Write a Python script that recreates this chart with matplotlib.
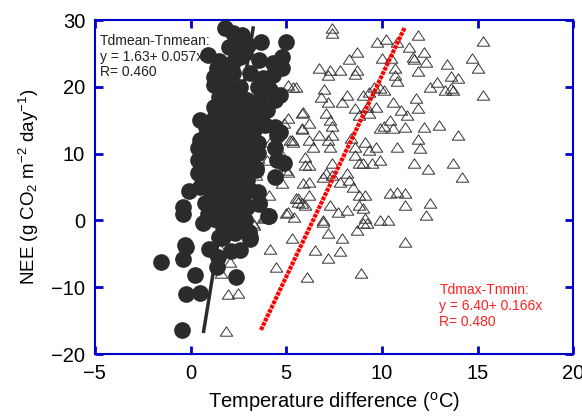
import numpy as np
import matplotlib
matplotlib.use("Agg")
import matplotlib.pyplot as plt
from matplotlib.path import Path

plt.rcParams['font.family'] = ['Liberation Sans', 'DejaVu Sans']
plt.rcParams['mathtext.fontset'] = 'custom'
plt.rcParams['mathtext.rm'] = 'Liberation Sans'
plt.rcParams['mathtext.it'] = 'Liberation Sans'
plt.rcParams['mathtext.default'] = 'regular'

# Tdmean-Tnmean (temperature difference, NEE)
tdmean_pts = [
    (-1.55, -6.2), (-0.45, -16.4), (-0.24, -11.0), (0.49, -10.9), (0.23, -8.2),
    (-0.4, -5.8), (-0.24, -4.0), (0.96, -4.3), (1.43, -5.5), (1.4, -7.0),
    (2.4, -8.5), (2.1, -4.6), (2.6, -4.4), (1.6, -2.6), (2.3, -1.9),
    (3.1, -2.8), (3.05, -1.7), (4.1, 0.7), (3.6, 2.5), (2.95, 2.0),
    (0.65, -0.4), (-0.4, 1.0), (-0.4, 2.0), (0.9, 0.9), (1.7, -1.0),
    (1.96, 0.0), (2.6, 0.0), (2.1, 1.1), (-0.3, -3.7), (1.5, -2.5),
    (1.7, -2.5), (3.1, -2.5), (1.6, 1.6), (0.75, 2.6), (-0.08, 4.4),
    (1.3, 5.6), (0.4, 7.1), (0.4, 9.0), (0.4, 10.8), (0.6, 12.0),
    (2.85, 0.1), (4.05, 0.7), (3.6, 2.6), (3.5, 4.3), (2.74, 3.5),
    (3.1, 4.5), (4.4, 6.5), (3.4, 7.8), (4.9, 8.6), (4.4, 10.8),
    (4.5, 12.8), (1.0, 2.0), (1.3, 3.0), (1.8, 2.5), (2.3, 3.0),
    (1.1, 4.0), (1.6, 4.2), (2.0, 4.8), (2.5, 5.2), (1.0, 6.0),
    (1.7, 6.5), (2.2, 6.2), (2.9, 7.0), (0.8, 8.0), (1.3, 8.5),
    (1.9, 7.8), (2.4, 8.4), (3.0, 8.8), (1.0, 9.8), (1.6, 9.2),
    (2.0, 10.5), (2.6, 10.0), (3.1, 10.8), (0.9, 11.0), (1.5, 11.5),
    (2.5, 11.8), (3.2, 12.3), (1.0, 12.8), (1.8, 12.5), (2.2, 13.0),
    (2.8, 12.6), (1.3, 14.2), (2.4, 14.0), (3.0, 14.3), (0.8, 14.0),
    (1.7, 1.0), (2.4, 1.8), (1.2, 0.2), (2.0, -0.8), (2.7, -1.0),
    (0.9, 24.8), (1.4, 22.8), (1.2, 21.5), (1.2, 20.3), (1.9, 21.8),
    (2.2, 23.7), (2.6, 24.5), (1.5, 18.5), (2.2, 18.0), (1.2, 17.0),
    (0.5, 15.0), (1.2, 15.3), (1.9, 16.0), (0.86, 13.5), (1.5, 13.8),
    (0.5, 12.0), (1.2, 11.6), (2.2, 12.0), (3.0, 13.1), (0.5, 10.5),
    (1.4, 10.1), (2.2, 9.5), (0.5, 9.0), (1.0, 7.1), (1.5, 8.0),
    (2.6, 7.1), (1.2, 5.8), (0.5, 5.0), (1.9, 5.0), (2.95, 6.0),
    (3.4, 7.5), (3.5, 10.1), (3.5, 11.6), (1.8, 28.8), (2.2, 28.0),
    (2.7, 27.8), (3.7, 26.7), (5.0, 26.7), (2.85, 25.0), (2.5, 24.5),
    (3.6, 24.0), (4.3, 23.6), (4.8, 24.5), (4.8, 22.8), (1.7, 22.8),
    (2.2, 22.0), (3.1, 22.0), (3.8, 21.3), (4.3, 21.8), (1.9, 20.0),
    (2.6, 20.0), (3.5, 20.0), (4.15, 19.5), (4.7, 18.8), (4.4, 18.0),
    (3.6, 18.0), (2.95, 18.0), (2.05, 18.0), (1.7, 16.8), (2.6, 16.5),
    (3.3, 16.1), (4.0, 16.5), (2.06, 15.0), (2.95, 15.0), (3.6, 14.7),
    (4.4, 14.0), (1.9, 13.5), (2.6, 13.5), (3.3, 13.5), (4.7, 13.2),
    (3.9, 14.3), (4.5, 9.0), (2.5, 26.5), (3.0, 26.2), (2.0, 26.0),
    (4.0, 20.5), (1.5, 23.8),
]

# Tdmax-Tnmin (temperature difference, NEE)
tdmax_pts = [
    (7.4, 28.8), (7.4, 28.0), (9.75, 26.7), (10.2, 27.2), (10.8, 26.7),
    (11.9, 27.8), (15.3, 26.9), (11.4, 26.0), (8.7, 25.2), (12.2, 25.2),
    (8.3, 24.2), (10.0, 24.3), (10.5, 24.3), (11.6, 24.4), (11.7, 24.2),
    (12.3, 23.7), (14.7, 24.3), (13.4, 23.4), (6.7, 22.8), (7.3, 22.5),
    (7.2, 21.8), (8.7, 22.5), (8.6, 21.9), (10.7, 22.8), (10.7, 21.8),
    (11.9, 22.4), (15.0, 22.8), (13.6, 21.6), (14.0, 21.3), (10.8, 20.9),
    (12.9, 20.7), (12.5, 20.0), (13.3, 19.5), (13.6, 19.8), (13.7, 19.5),
    (15.3, 18.8), (7.0, 19.7), (6.8, 18.5), (7.2, 17.7), (7.9, 17.7),
    (8.2, 18.8), (9.0, 18.8), (9.3, 19.2), (9.6, 20.0), (9.9, 19.8),
    (10.1, 19.5), (10.6, 17.7), (11.8, 18.3), (11.9, 16.8), (11.3, 15.8),
    (11.0, 16.5), (8.6, 16.8), (8.8, 15.8), (9.2, 17.0), (9.3, 16.1),
    (9.7, 17.0), (5.9, 16.2), (5.1, 15.3), (6.2, 14.6), (7.1, 16.1),
    (7.3, 15.0), (7.4, 14.1), (6.7, 12.8), (5.8, 13.7), (7.4, 12.8),
    (9.9, 13.8), (10.1, 14.1), (10.4, 15.0), (10.6, 13.8), (11.2, 14.0),
    (12.2, 14.0), (13.0, 14.3), (14.0, 12.8), (5.3, 12.0), (6.2, 12.0),
    (6.4, 11.0), (7.2, 12.0), (7.3, 11.0), (8.4, 12.3), (8.6, 11.0),
    (9.1, 11.7), (9.3, 10.5), (9.7, 11.0), (10.8, 11.0), (11.9, 12.2),
    (12.0, 10.8), (4.8, 9.8), (5.0, 7.5), (6.0, 9.5), (6.0, 8.3),
    (6.2, 8.3), (7.4, 8.6), (8.6, 9.8), (8.8, 8.6), (9.0, 8.6),
    (9.5, 8.6), (9.9, 9.0), (11.7, 8.6), (12.4, 7.7), (13.7, 8.6),
    (14.2, 6.5), (5.9, 5.6), (6.2, 5.7), (6.9, 6.5), (7.1, 7.1),
    (7.4, 6.8), (7.8, 5.7), (8.2, 7.1), (8.3, 6.0), (8.5, 5.0),
    (8.8, 3.8), (9.1, 3.8), (10.4, 4.1), (10.8, 4.3), (11.2, 4.1),
    (6.2, 3.8), (5.6, 3.4), (5.6, 2.8), (5.8, 2.6), (6.0, 2.3),
    (5.1, 1.3), (5.4, 0.5), (7.3, 2.3), (7.7, 1.3), (8.2, 1.6),
    (8.8, 2.3), (9.0, 1.9), (6.9, 0.1), (6.9, -0.2), (9.1, 0.4),
    (9.0, -0.4), (9.2, -0.4), (9.9, 0.1), (10.3, 0.1), (11.2, 2.3),
    (12.5, 2.6), (12.3, 0.8), (8.7, -1.4), (7.2, -1.9), (7.9, -2.6),
    (5.3, -2.6), (11.2, -3.2), (6.5, -4.4), (7.8, -4.6), (7.2, -5.6),
    (6.1, -8.5), (8.9, -7.9), (1.85, -16.6), (1.96, -11.0), (2.5, -10.9),
    (2.06, -6.2), (1.5, -4.0), (4.15, -4.3), (4.47, -7.0), (3.26, -0.4),
    (3.9, 0.5), (5.0, 1.1), (1.6, -7.9), (4.15, 11.7), (5.2, 12.0),
    (5.35, 11.7), (3.5, 9.3), (4.0, 9.0), (3.4, 6.8), (5.1, 7.2),
    (4.8, 5.6), (4.1, 3.8), (5.5, 3.4), (3.8, 0.4), (3.3, -0.7),
    (5.1, 20.3), (5.35, 20.0), (4.9, 14.6), (3.9, 15.0), (4.15, 14.0),
    (5.8, 16.1), (5.8, 13.8), (5.5, 20.0), (7.8, 22.5),
]

# regression: temperature difference = a + b * NEE
fit_mean = (1.63, 0.057)
fit_max = (6.40, 0.166)
nee_mean_range = [-16.6, 28.8]
nee_max_range = [-16.4, 28.8]

tx = [p[0] for p in tdmax_pts]
ty = [p[1] for p in tdmax_pts]
cx = [p[0] for p in tdmean_pts]
cy = [p[1] for p in tdmean_pts]

fig = plt.figure(figsize=(5.82, 4.17), dpi=100)
ax = fig.add_axes([0.163, 0.151, 0.822, 0.801])

tri = Path([(0, 0.75), (-1, -0.75), (1, -0.75), (0, 0.75)],
           [Path.MOVETO, Path.LINETO, Path.LINETO, Path.CLOSEPOLY])
ax.plot(tx, ty, linestyle='none', marker=tri, markersize=9,
        markerfacecolor='none', markeredgecolor='#333333', markeredgewidth=0.7, zorder=2)
ax.plot(cx, cy, linestyle='none', marker='o', markersize=11,
        markerfacecolor='#2b2b2b', markeredgecolor='#2b2b2b', zorder=3)

nm = np.array(nee_mean_range)
ax.plot(fit_mean[0] + fit_mean[1] * nm, nm, color='#2b2b2b', lw=2.5, zorder=4)
nx = np.array(nee_max_range)
ax.plot(fit_max[0] + fit_max[1] * nx, nx,
        color='#ff0000', lw=3, linestyle=(0, (0.9, 0.25)), zorder=4)

ax.text(-4.75, 27.9, 'Tdmean-Tnmean:\ny = 1.63+ 0.057x\nR= 0.460',
        fontsize=10, color='#222222', va='top', ha='left', linespacing=1.15)
ax.text(13.0, -9.4, 'Tdmax-Tnmin:\ny = 6.40+ 0.166x\nR= 0.480',
        fontsize=10, color='#ff2020', va='top', ha='left', linespacing=1.15)

ax.set_xlim(-5, 20)
ax.set_ylim(-20, 30)
ax.set_xticks([-5, 0, 5, 10, 15, 20])
ax.set_yticks([-20, -10, 0, 10, 20, 30])
for s in ax.spines.values():
    s.set_color('#0000cc')
    s.set_linewidth(1.5)
ax.tick_params(direction='in', length=6, width=2, color='#0000cc',
               top=True, right=True, labelsize=14.5, pad=7)

ax.set_xlabel('Temperature difference ($^{o}$C)', fontsize=14.5, labelpad=5)
ax.set_ylabel('NEE (g CO$_2$ m$^{-2}$ day$^{-1}$)', fontsize=13.5, labelpad=7)

fig.savefig('out.png', dpi=100)
